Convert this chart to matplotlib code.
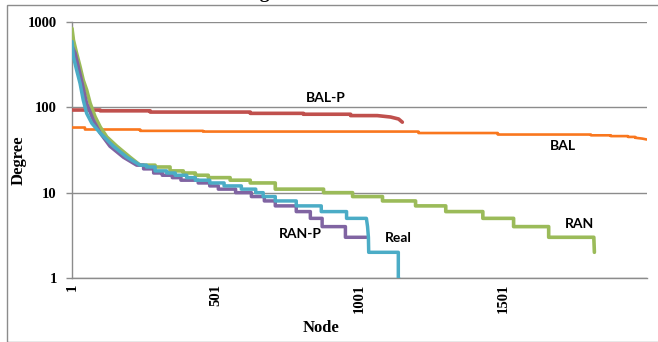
import matplotlib
matplotlib.use('Agg')
import matplotlib.pyplot as plt
from matplotlib.patches import Rectangle
from matplotlib.ticker import FixedLocator, NullLocator

# Degree per node, sorted descending. Each series: a curved head (node, degree)
# read point by point, then integer steps (start node, degree) up to an end node.

# BAL
bal_head_node = [1]
bal_head_deg = [58]
bal_step_node = [1, 46, 238, 457, 1206, 1482, 1806, 1875, 1935]
bal_step_deg = [58, 55, 53, 52, 50, 48, 47, 46, 45]
bal_tail_node = [1960, 1985, 2000]
bal_tail_deg = [44, 43, 42]

# BAL-P
balp_head_node = [1]
balp_head_deg = [93]
balp_step_node = [1, 99, 273, 621, 806, 970]
balp_step_deg = [93, 91, 88, 85, 83, 80]
balp_tail_node = [1063, 1109, 1137, 1150]
balp_tail_deg = [80, 77, 73, 67]

# RAN
ran_head_node = [1, 6, 17, 29, 40, 52, 64, 81, 99, 122, 157, 203]
ran_head_deg = [840, 615, 430, 300, 209, 160, 112, 78, 59, 45, 35, 26]
ran_step_node = [238, 290, 342, 388, 430, 475, 551, 621, 708, 876, 977,
                 1081, 1196, 1301, 1430, 1537, 1659]
ran_step_deg = [21, 20, 18, 17, 16, 15, 14, 13, 11, 10, 9, 8, 7, 6, 5, 4, 3]
ran_tail_node = [1816, 1818]
ran_tail_deg = [3, 2]

# RAN-P
ranp_head_node = [1, 12, 35, 52, 75, 99, 133, 180]
ranp_head_deg = [520, 430, 200, 111, 71, 50, 35, 26]
ranp_step_node = [226, 250, 285, 315, 350, 380, 440, 480, 510, 570, 625,
                  670, 708, 781, 830, 871, 952]
ranp_step_deg = [21, 19, 17, 16, 15, 14, 13, 12, 11, 10, 9, 8, 7, 6, 5, 4, 3]
ranp_tail_node = [1025]
ranp_tail_deg = [3]

# Real
real_head_node = [1, 6, 17, 29, 40, 52, 70, 99, 145, 192]
real_head_deg = [590, 390, 274, 191, 122, 85, 65, 50, 35, 26]
real_step_node = [238, 260, 290, 330, 360, 400, 430, 480, 530, 590, 640,
                  666, 708, 781, 868, 956]
real_step_deg = [21, 20, 18, 17, 16, 15, 14, 13, 12, 11, 10, 9, 8, 7, 6, 5]
real_tail_node = [1025, 1029, 1032, 1033, 1136, 1136, 1137]
real_tail_deg = [5, 4, 3, 2, 2, 1, 1]

x_ticks = [1, 501, 1001, 1501]
y_ticks = [1, 10, 100, 1000]

labels = ['BAL', 'BAL-P', 'RAN', 'RAN-P', 'Real']
colors = ['#F9771E', '#C0504D', '#9BBB59', '#8064A2', '#4BACC6']


def trace(head_x, head_y, step_x, step_y, tail_x, tail_y):
    xs = list(head_x)
    ys = list(head_y)
    bounds = list(step_x) + [tail_x[0]]
    for i, d in enumerate(step_y):
        xs += [bounds[i], bounds[i + 1]]
        ys += [d, d]
    xs += list(tail_x)
    ys += list(tail_y)
    return xs, ys


series = [
    trace(bal_head_node, bal_head_deg, bal_step_node, bal_step_deg, bal_tail_node, bal_tail_deg),
    trace(balp_head_node, balp_head_deg, balp_step_node, balp_step_deg, balp_tail_node, balp_tail_deg),
    trace(ran_head_node, ran_head_deg, ran_step_node, ran_step_deg, ran_tail_node, ran_tail_deg),
    trace(ranp_head_node, ranp_head_deg, ranp_step_node, ranp_step_deg, ranp_tail_node, ranp_tail_deg),
    trace(real_head_node, real_head_deg, real_step_node, real_step_deg, real_tail_node, real_tail_deg),
]
widths = [1.9, 2.6, 2.6, 2.5, 2.5]

W, H = 658, 342
fig = plt.figure(figsize=(W / 100, H / 100), dpi=100)
ax = fig.add_axes([72 / W, 1 - 278 / H, (647 - 72) / W, (278 - 22) / H])

for (xs, ys), c, lw, z in zip(series, colors, widths, range(5)):
    ax.plot(xs, ys, color=c, lw=lw, solid_joinstyle='round',
            solid_capstyle='round', zorder=3 + z)

ax.set_yscale('log')
ax.set_ylim(1, 1000)
ax.set_xlim(1, 2001)
ax.yaxis.set_major_locator(FixedLocator(y_ticks))
ax.yaxis.set_minor_locator(NullLocator())
ax.set_yticklabels([str(v) for v in y_ticks])
ax.set_xticks(x_ticks)
ax.set_xticklabels([str(v) for v in x_ticks], rotation=90)

grid_c = '#8C8C8C'
ax.grid(axis='y', color=grid_c, lw=1.0)
ax.set_axisbelow(True)
for s in ['top', 'right']:
    ax.spines[s].set_visible(False)
for s in ['left', 'bottom']:
    ax.spines[s].set_color(grid_c)
    ax.spines[s].set_linewidth(1.0)

serif = 'Liberation Serif'
ax.tick_params(axis='y', length=4, width=1, color=grid_c, pad=7)
ax.tick_params(axis='x', length=0, pad=4)
for t in ax.get_xticklabels() + ax.get_yticklabels():
    t.set_fontfamily(serif)
    t.set_fontweight('bold')
    t.set_fontsize(10.5)

fig.text(19 / W, 1 - 160 / H, 'Degree', fontfamily=serif, fontweight='bold',
         fontsize=12, rotation=90, ha='center', va='center')
fig.text(321 / W, 1 - 328 / H, 'Node', fontfamily=serif, fontweight='bold',
         fontsize=12, ha='center', va='center')

# title, mostly cut off by the top of the image
fig.text(237 / W, 1 + 2 / H, 'Degree Distribution', fontfamily=serif,
         fontweight='bold', fontsize=14, ha='left', va='baseline')

lab_font = dict(fontfamily='Lato', fontweight='bold', fontsize=10, color='black',
                ha='center', va='center')
fig.text(326 / W, 1 - 98 / H, 'BAL-P', **lab_font)
fig.text(563 / W, 1 - 146 / H, 'BAL', **lab_font)
fig.text(579 / W, 1 - 224 / H, 'RAN', **lab_font)
fig.text(300 / W, 1 - 234 / H, 'RAN-P', **lab_font)
fig.text(398 / W, 1 - 238 / H, 'Real', **lab_font)

# chart area border
fig.patches.append(Rectangle((7 / W, 0.5 / H), 1.0, 1 - 5 / H,
                             transform=fig.transFigure, fill=False,
                             edgecolor='#8C8C8C', lw=1.0))

fig.savefig('out.png', dpi=100)
